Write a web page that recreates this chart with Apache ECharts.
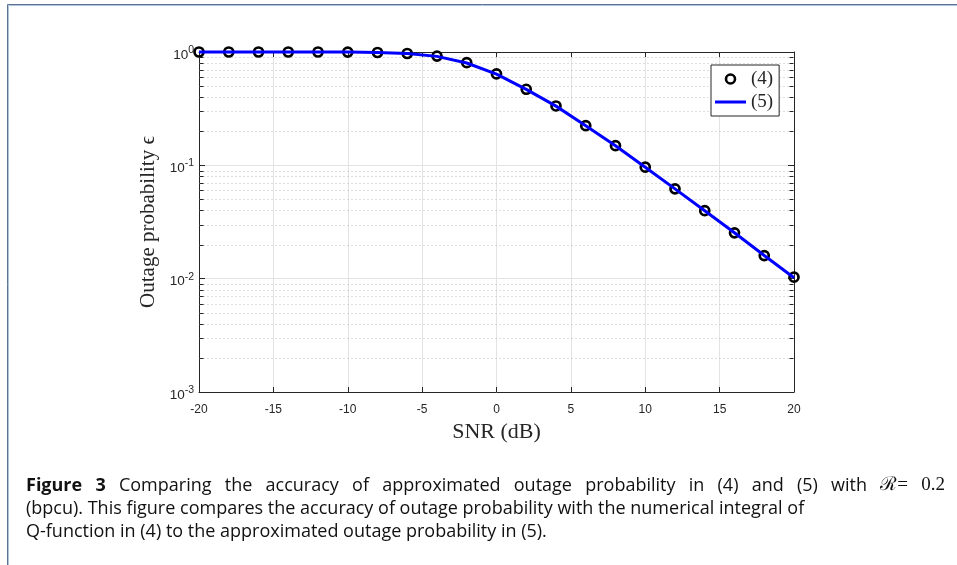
<!DOCTYPE html>
<html><head><meta charset="utf-8">
<script src="https://cdn.jsdelivr.net/npm/echarts@6/dist/echarts.min.js"></script>
<style>html,body{margin:0;padding:0;background:#fff}#c{width:957px;height:565px}</style>
</head><body><div id="c"></div>
<script>
// SNR (dB) sample points
const snrDb = [-20,-18,-16,-14,-12,-10,-8,-6,-4,-2,0,2,4,6,8,10,12,14,16,18,20];
// (4): numerical integral of Q-function
const outageEq4 = [1.0,1.0,1.0,1.0,1.0,0.999,0.99,0.97,0.92,0.805,0.64,0.469,0.334,0.224,0.149,0.0964,0.062,0.0398,0.0254,0.016,0.0103];
// (5): approximated outage probability
const outageEq5 = [1.0,1.0,1.0,1.0,1.0,0.999,0.99,0.97,0.915,0.8,0.638,0.468,0.333,0.224,0.149,0.0963,0.062,0.0398,0.0254,0.016,0.0102];
// axis ticks
const xTickInterval = 5;
const xMin = -20, xMax = 20;
const yMin = 0.001, yMax = 1;
const minorGrid = [0.002,0.003,0.004,0.005,0.006,0.007,0.008,0.009,
                   0.02,0.03,0.04,0.05,0.06,0.07,0.08,0.09,
                   0.2,0.3,0.4,0.5,0.6,0.7,0.8,0.9];
const seriesNames = ['(4)','(5)'];
const xName = 'SNR (dB)';
const yName = 'Outage probability \u03F5';
// caption: first line as words (justified), style tag per word
const captionLine1 = [['Figure','b'],['3','b'],['Comparing'],['the'],['accuracy'],['of'],['approximated'],['outage'],['probability'],['in'],['(4)'],['and'],['(5)'],['with'],['\u211B=','r'],['0.2','r']];
const captionLine2 = '(bpcu). This figure compares the accuracy of outage probability with the numerical integral of';
const captionLine3 = 'Q-function in (4) to the approximated outage probability in (5).';

const axisColor = '#262626';
const gridColor = '#e3e3e3';
const serif = "'Liberation Serif','DejaVu Serif',serif";
const sans = "'Liberation Sans',Arial,sans-serif";
const capFont = "'Open Sans','DejaVu Sans',sans-serif";
const capSize = 18;
const capLeft = 26, capRight = 945;

// justify first caption line
const mctx = document.createElement('canvas').getContext('2d');
function fontOf(st){
  if (st === 'b') return 'bold ' + capSize + 'px ' + capFont;
  if (st === 'r') return (capSize + 1) + 'px ' + serif;
  return capSize + 'px ' + capFont;
}
let wordsW = 0;
captionLine1.forEach(w => { mctx.font = fontOf(w[1]); wordsW += mctx.measureText(w[0]).width; });
const gapW = Math.max(4, (capRight - capLeft - wordsW) / (captionLine1.length - 1));
const line1Text = captionLine1.map(w => w[1] ? '{' + w[1] + '|' + w[0] + '}' : '{n|' + w[0] + '}').join('{sp| }');

const chart = echarts.init(document.getElementById('c'), null, {renderer:'canvas'});

function yLabel(v){
  const e = Math.round(Math.log10(v));
  return '{b|10}{s|' + e + '}';
}

const option = {
  animation: false,
  backgroundColor: '#ffffff',
  grid: {left: 199, right: 163, top: 52, bottom: 173, containLabel: false},
  legend: {
    orient: 'vertical', left: 711, top: 65,
    padding: [3, 6, 3, 4], itemGap: 1,
    itemWidth: 31, itemHeight: 9,
    backgroundColor: '#ffffff', borderColor: axisColor, borderWidth: 1,
    textStyle: {fontFamily: serif, fontSize: 19, color: axisColor, lineHeight: 22},
    data: [
      {name: seriesNames[0], icon: 'circle', itemStyle: {color: 'rgba(255,255,255,0)', borderColor: '#000', borderWidth: 2.6}},
      {name: seriesNames[1], icon: 'path://M0,0h31v3h-31z', itemStyle: {color: '#0000ff', borderWidth: 0}}
    ]
  },
  xAxis: [{
    type: 'value', min: xMin, max: xMax, interval: xTickInterval, position: 'bottom',
    name: xName, nameLocation: 'middle', nameGap: 28,
    nameTextStyle: {fontFamily: serif, fontSize: 22, color: axisColor},
    axisLine: {onZero: false, lineStyle: {color: axisColor, width: 1}},
    axisTick: {inside: true, length: 5, lineStyle: {color: axisColor}},
    axisLabel: {fontFamily: sans, fontSize: 12, color: axisColor, margin: 12},
    splitLine: {show: true, lineStyle: {color: gridColor, width: 1}}
  },{
    type: 'value', min: xMin, max: xMax, interval: xTickInterval, position: 'top',
    axisLine: {onZero: false, lineStyle: {color: axisColor, width: 1}},
    axisTick: {inside: true, length: 5, lineStyle: {color: axisColor}},
    axisLabel: {show: false}, splitLine: {show: false}
  }],
  yAxis: [{
    type: 'log', logBase: 10, min: yMin, max: yMax, position: 'left',
    name: yName, nameLocation: 'middle', nameGap: 40, nameRotate: 90,
    nameTextStyle: {fontFamily: serif, fontSize: 21, color: axisColor},
    axisLine: {onZero: false, lineStyle: {color: axisColor, width: 1}},
    axisTick: {inside: true, length: 6, lineStyle: {color: axisColor}},
    axisLabel: {
      margin: 5, formatter: yLabel,
      rich: {
        b: {fontFamily: sans, fontSize: 13.5, color: axisColor, padding: [6,0,0,0]},
        s: {fontFamily: sans, fontSize: 10.5, color: axisColor, padding: [0,0,4,0]}
      }
    },
    splitLine: {show: true, lineStyle: {color: gridColor, width: 1}}
  },{
    type: 'log', logBase: 10, min: yMin, max: yMax, position: 'right',
    axisLine: {onZero: false, lineStyle: {color: axisColor, width: 1}},
    axisTick: {inside: true, length: 6, lineStyle: {color: axisColor}},
    axisLabel: {show: false}, splitLine: {show: false}
  }],
  series: [
    {
      type: 'custom', silent: true, z: 1, xAxisIndex: 0, yAxisIndex: 0,
      clip: false,
      data: minorGrid.map(v => [xMin, v]),
      encode: {x: 0, y: 1},
      renderItem: function(params, api){
        const cs = params.coordSys;
        const y = Math.round(api.coord([api.value(0), api.value(1)])[1]) + 0.5;
        const x0 = Math.round(cs.x) + 0.5, x1 = Math.round(cs.x + cs.width) - 0.5;
        return {type: 'group', children: [
          {type: 'line', shape: {x1: x0, y1: y, x2: x1, y2: y}, style: {stroke: '#bdbdbd', lineWidth: 1, lineDash: [1, 3]}},
          {type: 'line', shape: {x1: x0, y1: y, x2: x0 + 4, y2: y}, style: {stroke: axisColor, lineWidth: 1}},
          {type: 'line', shape: {x1: x1 - 4, y1: y, x2: x1, y2: y}, style: {stroke: axisColor, lineWidth: 1}}
        ]};
      }
    },
    {
      name: seriesNames[0], type: 'scatter', z: 3, clip: false,
      symbol: 'circle', symbolSize: 9,
      itemStyle: {color: 'rgba(255,255,255,0)', borderColor: '#000000', borderWidth: 2.7, opacity: 1},
      data: snrDb.map((x, i) => [x, outageEq4[i]])
    },
    {
      name: seriesNames[1], type: 'line', z: 4, clip: false,
      symbol: 'none', smooth: false,
      lineStyle: {color: '#0000ff', width: 3},
      itemStyle: {color: '#0000ff'},
      data: snrDb.map((x, i) => [x, outageEq5[i]])
    }
  ],
  graphic: [
    {type: 'polyline', silent: true, shape: {points: [[7.5, 565], [7.5, 4.5], [957, 4.5]]}, style: {stroke: '#5d7391', lineWidth: 1, fill: null}},
    {type: 'polyline', silent: true, shape: {points: [[8.5, 565], [8.5, 5.5], [957, 5.5]]}, style: {stroke: '#aec3dc', lineWidth: 1, fill: null}},
    {type: 'text', left: capLeft, top: 476, style: {text: line1Text, font: capSize + 'px ' + capFont, fill: '#111',
      rich: {
        n: {fontFamily: capFont, fontSize: capSize},
        b: {fontWeight: 'bold', fontFamily: capFont, fontSize: capSize},
        r: {fontFamily: serif, fontSize: capSize + 1},
        sp: {width: gapW, fontFamily: capFont, fontSize: capSize}
      }}},
    {type: 'text', left: capLeft, top: 499.5, style: {text: captionLine2, font: capSize + 'px ' + capFont, fill: '#111'}},
    {type: 'text', left: capLeft, top: 523, style: {text: captionLine3, font: capSize + 'px ' + capFont, fill: '#111'}}
  ]
};
chart.setOption(option);
</script>
</body></html>
